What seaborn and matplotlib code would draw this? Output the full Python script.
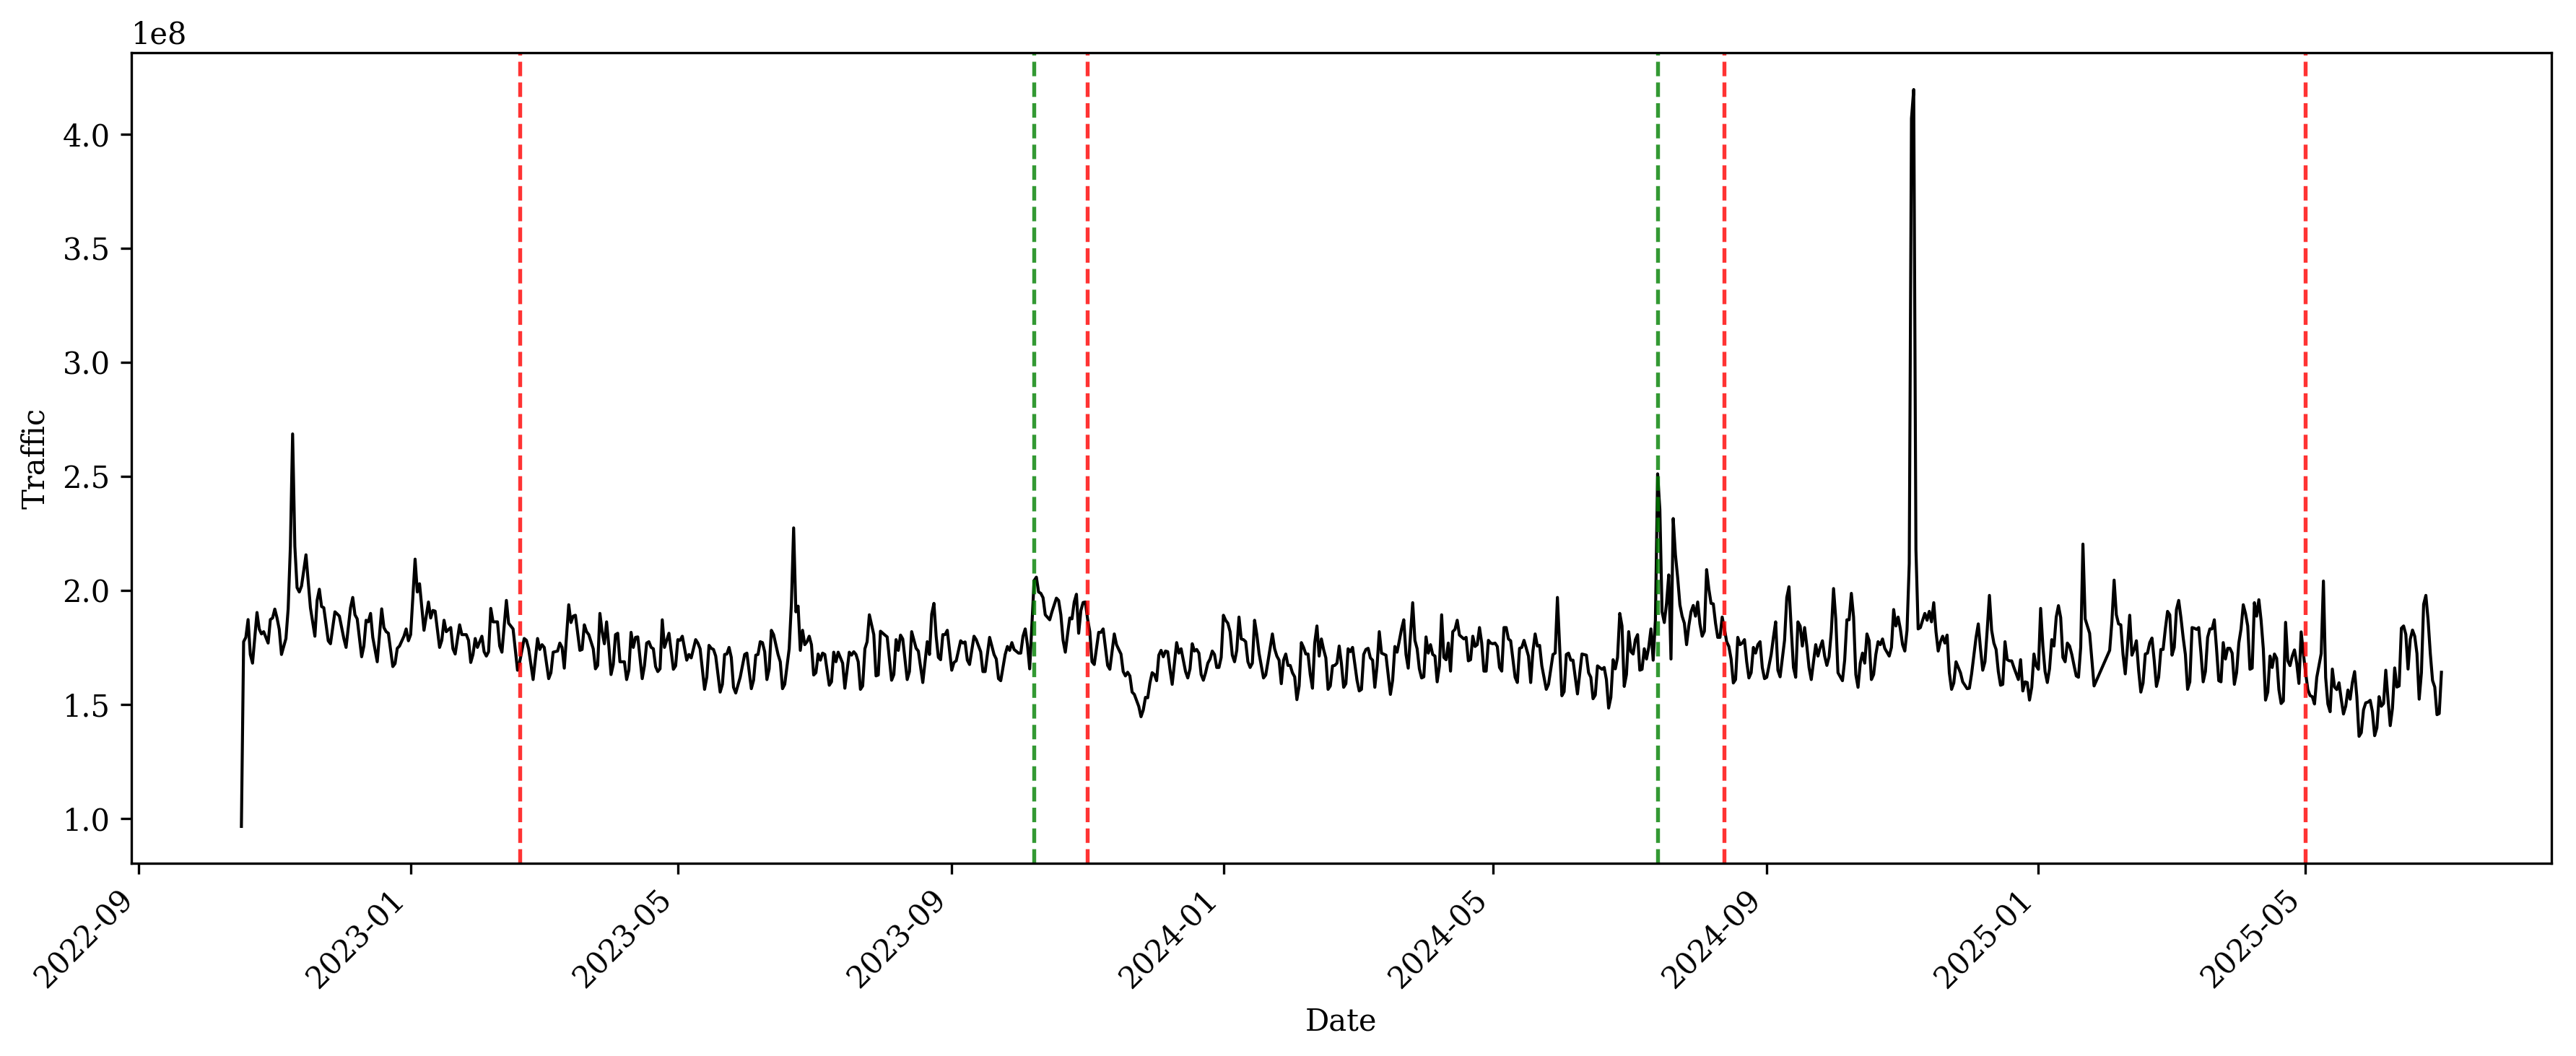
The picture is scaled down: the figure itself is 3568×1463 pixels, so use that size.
import matplotlib
matplotlib.use("Agg")
import matplotlib.pyplot as plt
import matplotlib.dates as mdates
import pandas as pd
import seaborn as sns

BASE_DATE = "2022-09-01"

# ---- daily traffic (day offset from BASE_DATE, value in units of 1e8) ----
days_a = [46, 47, 48, 49, 50, 51, 53, 54, 55, 56, 58, 59, 60, 61, 62, 63, 64, 66, 67, 68, 69, 70, 71, 72, 73, 75, 77, 79, 80, 81, 82, 83, 85, 86, 88, 89, 90, 92, 93, 95, 96, 97, 98, 100, 101, 102, 103, 104, 105, 107, 109, 110, 111, 112, 114, 115, 116, 117, 119, 120, 121, 122, 124, 125, 126, 128, 130, 131, 132, 133, 135, 136, 137, 138, 140, 141, 142, 144, 145, 147, 148, 149, 150, 151, 152, 154, 155, 156, 157, 158, 159, 161, 162, 163, 165, 166, 168, 170, 171, 173]
traffic_a = [0.966, 1.776, 1.795, 1.873, 1.72, 1.682, 1.904, 1.832, 1.81, 1.82, 1.77, 1.873, 1.88, 1.919, 1.88, 1.83, 1.72, 1.79, 1.92, 2.194, 2.687, 2.194, 2.013, 1.994, 2.02, 2.157, 1.925, 1.80, 1.957, 2.006, 1.93, 1.925, 1.78, 1.767, 1.907, 1.898, 1.888, 1.79, 1.751, 1.925, 1.97, 1.894, 1.876, 1.71, 1.757, 1.87, 1.863, 1.90, 1.795, 1.688, 1.92, 1.838, 1.82, 1.813, 1.667, 1.68, 1.747, 1.757, 1.80, 1.832, 1.78, 1.807, 2.138, 1.994, 2.03, 1.826, 1.95, 1.88, 1.913, 1.91, 1.751, 1.782, 1.87, 1.82, 1.838, 1.745, 1.722, 1.85, 1.807, 1.807, 1.782, 1.685, 1.72, 1.79, 1.751, 1.80, 1.732, 1.713, 1.732, 1.922, 1.863, 1.863, 1.757, 1.73, 1.957, 1.857, 1.832, 1.651, 1.688, 1.79]

days_b = [174, 175, 177, 179, 180, 181, 182, 184, 185, 186, 188, 189, 190, 191, 193, 194, 195, 196, 198, 199, 200, 201, 202, 204, 205, 206, 207, 208, 209, 210, 211, 212, 213, 214, 215, 216, 218, 219, 220, 221, 222, 223, 224, 226, 227, 228, 229, 230, 231, 232, 233, 234, 235, 236, 237, 238, 240, 241, 242, 243, 244, 246, 247, 248, 250, 251, 252, 254, 255, 256, 257, 258, 259, 261, 262, 263, 264, 265, 266, 267, 268, 270, 272, 273, 275, 276, 277, 278, 279, 280, 281, 282, 283, 284, 285, 287, 288, 289, 290, 292, 293, 294, 295, 296, 297, 298, 299, 300, 301, 302, 303, 304, 305, 306, 307, 308, 310, 311, 312, 313]
traffic_b = [1.782, 1.745, 1.61, 1.79, 1.742, 1.763, 1.751, 1.614, 1.64, 1.73, 1.735, 1.77, 1.751, 1.66, 1.938, 1.86, 1.888, 1.892, 1.738, 1.742, 1.85, 1.82, 1.807, 1.745, 1.657, 1.672, 1.90, 1.82, 1.767, 1.863, 1.757, 1.632, 1.676, 1.807, 1.813, 1.688, 1.688, 1.61, 1.651, 1.817, 1.751, 1.795, 1.797, 1.614, 1.67, 1.77, 1.776, 1.751, 1.745, 1.667, 1.645, 1.657, 1.872, 1.751, 1.782, 1.813, 1.655, 1.67, 1.785, 1.782, 1.80, 1.695, 1.72, 1.705, 1.785, 1.77, 1.745, 1.567, 1.62, 1.76, 1.747, 1.742, 1.713, 1.555, 1.589, 1.72, 1.722, 1.751, 1.707, 1.576, 1.551, 1.62, 1.72, 1.726, 1.57, 1.607, 1.717, 1.72, 1.776, 1.772, 1.732, 1.61, 1.657, 1.826, 1.807, 1.72, 1.688, 1.57, 1.589, 1.745, 1.944, 2.275, 1.907, 1.932, 1.738, 1.826, 1.763, 1.776, 1.80, 1.763, 1.63, 1.64, 1.722, 1.695, 1.726, 1.72, 1.585, 1.60, 1.73, 1.688]

days_c = [314, 316, 317, 319, 320, 321, 322, 323, 324, 325, 326, 327, 328, 330, 331, 332, 333, 335, 336, 338, 339, 340, 341, 342, 343, 345, 346, 347, 349, 350, 352, 354, 355, 356, 357, 358, 359, 360, 361, 362, 363, 365, 366, 367, 369, 370, 371, 372, 373, 375, 376, 378, 379, 380, 382, 384, 385, 386, 387, 389, 390, 391, 392, 393, 395, 396, 397, 398, 399, 400, 402, 403, 404, 405, 406, 407, 409, 410, 412, 413, 414, 415, 416, 417, 418, 419, 420, 421, 422, 423, 424, 425, 426, 427, 428, 429, 431, 432, 433, 435, 436, 438, 439, 440, 441, 442, 443, 444, 445, 446, 447, 449, 450, 451, 452]
traffic_c = [1.73, 1.682, 1.572, 1.73, 1.717, 1.732, 1.72, 1.688, 1.567, 1.582, 1.745, 1.776, 1.894, 1.807, 1.626, 1.63, 1.822, 1.805, 1.797, 1.607, 1.632, 1.785, 1.738, 1.805, 1.788, 1.61, 1.645, 1.82, 1.747, 1.735, 1.597, 1.776, 1.72, 1.897, 1.944, 1.80, 1.707, 1.697, 1.807, 1.807, 1.826, 1.651, 1.685, 1.692, 1.78, 1.77, 1.775, 1.695, 1.676, 1.80, 1.785, 1.732, 1.645, 1.645, 1.795, 1.72, 1.70, 1.614, 1.605, 1.72, 1.755, 1.738, 1.772, 1.742, 1.726, 1.726, 1.80, 1.832, 1.763, 1.657, 2.044, 2.059, 1.994, 1.988, 1.969, 1.894, 1.872, 1.907, 1.967, 1.957, 1.894, 1.782, 1.73, 1.807, 1.88, 1.876, 1.95, 1.984, 1.813, 1.913, 1.948, 1.95, 1.876, 1.82, 1.688, 1.676, 1.817, 1.817, 1.832, 1.672, 1.655, 1.81, 1.763, 1.742, 1.722, 1.645, 1.626, 1.642, 1.626, 1.555, 1.545, 1.492, 1.447, 1.476, 1.532]

days_d = [453, 454, 455, 456, 457, 458, 459, 460, 461, 462, 463, 464, 466, 467, 468, 470, 471, 472, 473, 474, 475, 476, 477, 478, 479, 480, 481, 482, 483, 484, 485, 486, 487, 488, 489, 490, 491, 492, 493, 494, 495, 496, 497, 498, 499, 500, 501, 502, 503, 505, 506, 507, 509, 510, 511, 512, 513, 514, 515, 516, 517, 518, 519, 520, 521, 522, 523, 524, 525, 526, 527, 528, 529, 530, 531, 532, 533, 534, 535, 536, 537, 538, 539, 540, 541, 542, 543, 544, 545, 547, 548, 549, 550, 551, 552, 553, 554, 555, 556, 557, 558, 560, 562, 563, 564, 565, 566, 567, 568, 569, 570, 572, 573, 574, 575, 576, 577, 578, 579, 580, 581, 582, 583, 584, 585, 586, 587, 588, 589, 590, 591]
traffic_d = [1.53, 1.595, 1.64, 1.632, 1.605, 1.717, 1.738, 1.71, 1.735, 1.732, 1.655, 1.589, 1.772, 1.726, 1.745, 1.645, 1.617, 1.657, 1.767, 1.735, 1.742, 1.726, 1.632, 1.607, 1.64, 1.682, 1.70, 1.735, 1.72, 1.663, 1.663, 1.707, 1.892, 1.87, 1.857, 1.82, 1.717, 1.688, 1.738, 1.884, 1.788, 1.785, 1.776, 1.688, 1.663, 1.682, 1.87, 1.807, 1.726, 1.617, 1.63, 1.688, 1.81, 1.745, 1.713, 1.695, 1.592, 1.695, 1.722, 1.672, 1.672, 1.64, 1.622, 1.522, 1.582, 1.772, 1.751, 1.722, 1.722, 1.632, 1.572, 1.77, 1.845, 1.713, 1.788, 1.742, 1.705, 1.567, 1.582, 1.67, 1.672, 1.682, 1.757, 1.68, 1.576, 1.592, 1.745, 1.732, 1.751, 1.607, 1.56, 1.567, 1.72, 1.742, 1.747, 1.705, 1.695, 1.576, 1.67, 1.82, 1.726, 1.717, 1.545, 1.607, 1.755, 1.73, 1.78, 1.832, 1.872, 1.72, 1.66, 1.947, 1.782, 1.745, 1.657, 1.617, 1.622, 1.797, 1.726, 1.763, 1.72, 1.713, 1.60, 1.67, 1.894, 1.707, 1.697, 1.77, 1.647, 1.82, 1.83]

days_e = [592, 593, 595, 596, 597, 598, 599, 600, 601, 602, 603, 604, 605, 606, 607, 608, 609, 610, 611, 612, 613, 614, 615, 616, 618, 619, 620, 621, 622, 624, 625, 626, 627, 628, 629, 630, 632, 633, 635, 636, 637, 638, 639, 640, 641, 642, 643, 644, 646, 648, 650, 651, 652, 653, 654, 655, 657, 658, 659, 660, 661, 662, 663, 664, 665, 666, 667, 668, 669, 670, 671, 672, 673, 674, 675, 676, 677, 678, 679, 680, 681, 682, 683, 684, 685, 686, 687, 688, 689, 690, 691, 692, 693, 694, 695, 696, 697, 698, 699, 700, 701, 702, 703, 704, 705, 706, 707, 708, 709, 710, 711, 712, 713, 714, 715, 716, 717, 718, 719, 720, 721, 722, 723, 724, 725, 726, 727, 728, 729, 730]
traffic_e = [1.87, 1.805, 1.788, 1.795, 1.692, 1.697, 1.80, 1.755, 1.763, 1.838, 1.77, 1.647, 1.647, 1.782, 1.77, 1.767, 1.77, 1.755, 1.663, 1.647, 1.838, 1.838, 1.788, 1.78, 1.62, 1.597, 1.747, 1.751, 1.782, 1.713, 1.597, 1.735, 1.81, 1.757, 1.76, 1.67, 1.567, 1.589, 1.72, 1.726, 1.97, 1.757, 1.539, 1.557, 1.72, 1.726, 1.695, 1.695, 1.547, 1.722, 1.717, 1.64, 1.62, 1.526, 1.542, 1.67, 1.655, 1.663, 1.61, 1.485, 1.532, 1.697, 1.657, 1.707, 1.90, 1.845, 1.58, 1.632, 1.82, 1.732, 1.722, 1.785, 1.807, 1.651, 1.655, 1.745, 1.70, 1.751, 1.832, 1.695, 1.87, 2.512, 2.356, 1.907, 1.86, 1.944, 2.069, 1.70, 2.316, 2.157, 2.057, 1.938, 1.888, 1.857, 1.763, 1.845, 1.907, 1.935, 1.888, 1.95, 1.854, 1.80, 1.822, 2.092, 2.007, 1.944, 1.942, 1.857, 1.795, 1.795, 1.884, 1.832, 1.776, 1.755, 1.70, 1.595, 1.61, 1.795, 1.763, 1.77, 1.785, 1.688, 1.617, 1.64, 1.751, 1.726, 1.763, 1.776, 1.663, 1.614]

days_f = [731, 733, 734, 735, 736, 737, 739, 740, 741, 742, 743, 744, 745, 746, 747, 748, 749, 750, 751, 752, 753, 754, 755, 756, 757, 758, 759, 760, 761, 762, 763, 765, 766, 767, 768, 769, 770, 771, 772, 773, 774, 775, 776, 777, 778, 779, 780, 781, 782, 783, 784, 786, 787, 788, 789, 790, 791, 792, 793, 794, 795, 796, 797, 798, 799, 800, 801, 802, 803, 804, 805, 806, 807, 808, 809, 810, 811, 812, 813, 814, 815, 816, 818, 819, 821, 822, 823, 825, 826, 827, 828, 829, 830, 831, 832, 833, 834, 835, 836, 837, 838, 839, 840, 841, 842, 844, 845, 846, 847, 848, 849, 850, 851, 852, 853, 854, 855, 856, 857, 858, 859, 860, 861, 862, 863, 864, 865, 866, 867, 868, 869, 870]
traffic_f = [1.62, 1.72, 1.795, 1.863, 1.651, 1.622, 1.782, 1.97, 2.017, 1.832, 1.663, 1.62, 1.863, 1.845, 1.757, 1.838, 1.757, 1.663, 1.61, 1.688, 1.763, 1.713, 1.751, 1.78, 1.713, 1.672, 1.71, 1.82, 2.009, 1.876, 1.64, 1.605, 1.695, 1.872, 1.872, 1.988, 1.884, 1.632, 1.576, 1.682, 1.726, 1.682, 1.81, 1.78, 1.61, 1.632, 1.72, 1.776, 1.763, 1.788, 1.747, 1.713, 1.751, 1.917, 1.845, 1.884, 1.832, 1.763, 1.735, 1.826, 2.119, 4.07, 4.197, 2.18, 1.832, 1.838, 1.87, 1.90, 1.87, 1.909, 1.863, 1.947, 1.82, 1.735, 1.776, 1.80, 1.77, 1.805, 1.64, 1.567, 1.595, 1.688, 1.64, 1.60, 1.57, 1.572, 1.635, 1.795, 1.854, 1.745, 1.651, 1.688, 1.826, 1.979, 1.826, 1.77, 1.742, 1.645, 1.585, 1.589, 1.776, 1.697, 1.692, 1.692, 1.663, 1.61, 1.697, 1.56, 1.60, 1.597, 1.52, 1.576, 1.722, 1.67, 1.655, 1.922, 1.757, 1.645, 1.597, 1.657, 1.785, 1.757, 1.884, 1.934, 1.882, 1.707, 1.688, 1.77, 1.757, 1.72, 1.672, 1.626]

days_g = [871, 872, 873, 874, 876, 878, 885, 886, 887, 888, 889, 890, 891, 892, 893, 894, 895, 896, 897, 898, 899, 900, 901, 902, 903, 904, 905, 906, 907, 908, 909, 910, 911, 912, 913, 914, 915, 916, 917, 918, 919, 920, 921, 922, 923, 924, 925, 926, 927, 928, 929, 930, 931, 932, 933, 934, 935, 936, 937, 938, 939, 940, 941, 942, 943, 944, 945, 946, 947, 948, 949, 950, 951, 952, 953, 954, 955, 956, 957, 958, 959, 960, 961, 962, 963, 964, 965, 966, 967, 968, 969, 970, 971, 972, 973, 974, 975, 976, 977, 978, 980, 981, 982, 983, 984, 985, 986, 987, 988, 989, 990, 991, 992, 993, 994, 995, 996, 997, 998, 999, 1000, 1001, 1002, 1003, 1004, 1005, 1006, 1007, 1008, 1009, 1010, 1011, 1012, 1013, 1014, 1015, 1016, 1017, 1018, 1019, 1020, 1021, 1022, 1023, 1024, 1025, 1026, 1027, 1028, 1029, 1030, 1031, 1032, 1033, 1034]
traffic_g = [1.62, 1.751, 2.204, 1.876, 1.813, 1.582, 1.738, 1.863, 2.046, 1.894, 1.854, 1.85, 1.72, 1.635, 1.757, 1.892, 1.717, 1.742, 1.78, 1.651, 1.555, 1.595, 1.722, 1.726, 1.772, 1.792, 1.695, 1.58, 1.62, 1.742, 1.742, 1.832, 1.909, 1.894, 1.717, 1.751, 1.917, 1.957, 1.882, 1.795, 1.72, 1.567, 1.60, 1.838, 1.835, 1.83, 1.838, 1.726, 1.60, 1.645, 1.795, 1.832, 1.832, 1.872, 1.745, 1.605, 1.60, 1.772, 1.70, 1.747, 1.747, 1.726, 1.589, 1.64, 1.77, 1.832, 1.938, 1.90, 1.845, 1.655, 1.66, 1.947, 1.888, 1.96, 1.87, 1.745, 1.52, 1.555, 1.713, 1.663, 1.722, 1.703, 1.566, 1.505, 1.516, 1.861, 1.692, 1.671, 1.713, 1.74, 1.682, 1.593, 1.819, 1.724, 1.64, 1.566, 1.540, 1.535, 1.503, 1.619, 1.724, 2.042, 1.619, 1.503, 1.469, 1.656, 1.577, 1.566, 1.596, 1.524, 1.459, 1.493, 1.564, 1.524, 1.598, 1.645, 1.535, 1.361, 1.377, 1.477, 1.508, 1.511, 1.519, 1.469, 1.364, 1.398, 1.535, 1.493, 1.505, 1.651, 1.524, 1.408, 1.484, 1.661, 1.577, 1.582, 1.835, 1.845, 1.808, 1.656, 1.787, 1.827, 1.80, 1.724, 1.524, 1.64, 1.94, 1.979, 1.872, 1.724, 1.606, 1.577, 1.456, 1.461, 1.642]

# ---- event markers ----
red_events = ["2023-02-19", "2023-11-01", "2024-08-13", "2025-05-01"]
green_events = ["2023-10-08", "2024-07-14"]

all_days = days_a + days_b + days_c + days_d + days_e + days_f + days_g
all_vals = traffic_a + traffic_b + traffic_c + traffic_d + traffic_e + traffic_f + traffic_g

df = pd.DataFrame({
    "Date": pd.Timestamp(BASE_DATE) + pd.to_timedelta(all_days, unit="D"),
    "Traffic": [v * 1e8 for v in all_vals],
})

plt.rcParams["font.family"] = ["DejaVu Serif"]
plt.rcParams["font.size"] = 10

W, H = 3568, 1463
fig = plt.figure(figsize=(W / 300, H / 300), dpi=300)
ax = fig.add_axes([182 / W, 1 - 1196 / H, (3534 - 182) / W, (1196 - 73) / H])

sns.lineplot(data=df, x="Date", y="Traffic", color="black", linewidth=1, ax=ax)

for d in red_events:
    ax.axvline(pd.Timestamp(d), color="red", linestyle="--", alpha=0.8, linewidth=1.3)
for d in green_events:
    ax.axvline(pd.Timestamp(d), color="green", linestyle="--", alpha=0.8, linewidth=1.3)

ax.xaxis.set_major_locator(mdates.MonthLocator(bymonth=[1, 5, 9]))
ax.xaxis.set_major_formatter(mdates.DateFormatter("%Y-%m"))
for lab in ax.get_xticklabels():
    lab.set_rotation(45)
    lab.set_ha("right")

ax.set_xlabel("Date")
ax.set_ylabel("Traffic")

fig.savefig("out.png", dpi=300)
